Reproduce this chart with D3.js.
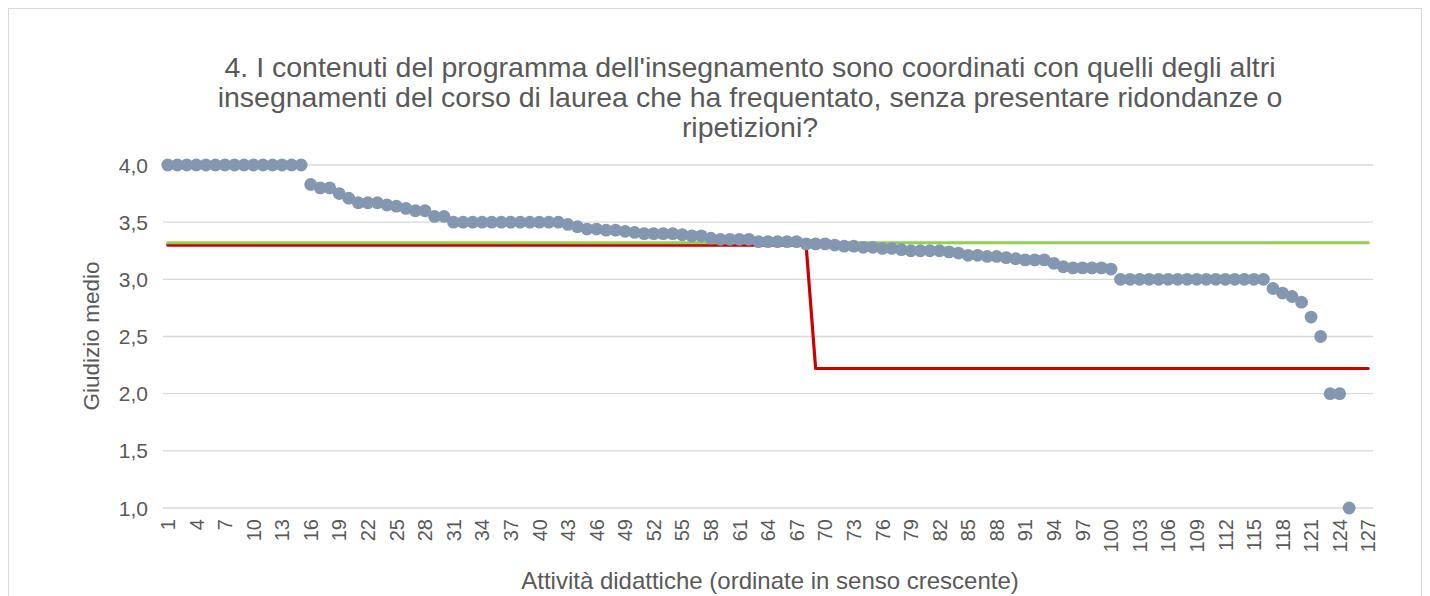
<!DOCTYPE html>
<html>
<head>
<meta charset="utf-8">
<script src="https://cdn.jsdelivr.net/npm/d3@7"></script>
<style>
  body { margin: 0; background: #fff; }
  svg { display: block; font-family: "Liberation Sans", Arial, sans-serif; }
</style>
</head>
<body>
<svg id="chart" width="1430" height="596"></svg>
<script>
// valori
const categories = d3.range(1, 128)
const giudizio = [
  4.00, 4.00, 4.00, 4.00, 4.00, 4.00, 4.00, 4.00, 4.00, 4.00,
  4.00, 4.00, 4.00, 4.00, 4.00, 3.83, 3.80, 3.80, 3.75, 3.71,
  3.67, 3.67, 3.67, 3.65, 3.64, 3.62, 3.60, 3.60, 3.55, 3.55,
  3.50, 3.50, 3.50, 3.50, 3.50, 3.50, 3.50, 3.50, 3.50, 3.50,
  3.50, 3.50, 3.48, 3.46, 3.44, 3.44, 3.43, 3.43, 3.42, 3.41,
  3.40, 3.40, 3.40, 3.40, 3.39, 3.38, 3.38, 3.36, 3.35, 3.35,
  3.35, 3.35, 3.33, 3.33, 3.33, 3.33, 3.33, 3.31, 3.31, 3.31,
  3.30, 3.29, 3.29, 3.28, 3.28, 3.27, 3.27, 3.26, 3.25, 3.25,
  3.25, 3.25, 3.24, 3.23, 3.21, 3.21, 3.20, 3.20, 3.19, 3.18,
  3.17, 3.17, 3.17, 3.14, 3.11, 3.10, 3.10, 3.10, 3.10, 3.09,
  3.00, 3.00, 3.00, 3.00, 3.00, 3.00, 3.00, 3.00, 3.00, 3.00,
  3.00, 3.00, 3.00, 3.00, 3.00, 3.00, 2.92, 2.88, 2.85, 2.80,
  2.67, 2.50, 2.00, 2.00, 1.00
]
// media di ateneo (verde) e media del corso (rosso, a gradino)
const mediaAteneo = categories.map(() => 3.32)
const mediaCorso = categories.map(c => c <= 68 ? 3.30 : 2.22)
const yTicks = [1.0, 1.5, 2.0, 2.5, 3.0, 3.5, 4.0]
const xTickLabels = categories.filter(c => (c - 1) % 3 === 0)

const titleLines = [
  "4. I contenuti del programma dell'insegnamento sono coordinati con quelli degli altri",
  "insegnamenti del corso di laurea che ha frequentato, senza presentare ridondanze o",
  "ripetizioni?"
]

const svg = d3.select("#chart")
const textColor = "#595959"

// cornice
svg.append("rect")
    .attr("x", 8.5).attr("y", 8.5)
    .attr("width", 1413).attr("height", 600)
    .attr("fill", "#fff")
    .attr("stroke", "#d9d9d9")

const x = d3.scaleBand()
    .domain(categories)
    .range([163, 1373])
const xc = c => x(c) + x.bandwidth() / 2

const y = d3.scaleLinear()
    .domain([1, 4])
    .range([508, 165])

// griglia
svg.append("g")
  .selectAll("line")
  .data(yTicks)
  .join("line")
    .attr("x1", 163).attr("x2", 1373)
    .attr("y1", d => y(d)).attr("y2", d => y(d))
    .attr("stroke", "#d9d9d9")
    .attr("stroke-width", 1.3)

// etichette asse y
svg.append("g")
  .selectAll("text")
  .data(yTicks)
  .join("text")
    .attr("x", 148)
    .attr("y", d => y(d))
    .attr("dy", "0.36em")
    .attr("text-anchor", "end")
    .attr("fill", textColor)
    .style("font-size", "21px")
    .text(d => d3.format(".1f")(d).replace(".", ","))

// etichette asse x (ruotate)
svg.append("g")
  .selectAll("text")
  .data(xTickLabels)
  .join("text")
    .attr("transform", d => `translate(${xc(d)},519) rotate(-90)`)
    .attr("dy", "0.36em")
    .attr("text-anchor", "end")
    .attr("fill", textColor)
    .style("font-size", "20px")
    .text(d => d)

// linee di riferimento
const line = d3.line()
    .x((d, i) => xc(categories[i]))
    .y(d => y(d))

svg.append("path")
    .datum(mediaCorso)
    .attr("d", line)
    .attr("fill", "none")
    .attr("stroke", "#cc0000")
    .attr("stroke-width", 3.2)
    .attr("stroke-linecap", "round")
    .attr("stroke-linejoin", "round")

svg.append("path")
    .datum(mediaAteneo)
    .attr("d", line)
    .attr("fill", "none")
    .attr("stroke", "#92d050")
    .attr("stroke-width", 3.2)
    .attr("stroke-linecap", "round")

// punti
svg.append("g")
  .selectAll("circle")
  .data(giudizio)
  .join("circle")
    .attr("cx", (d, i) => xc(categories[i]))
    .attr("cy", d => y(d))
    .attr("r", 6.4)
    .attr("fill", "#8497b0")

// titolo
svg.append("g")
  .selectAll("text")
  .data(titleLines)
  .join("text")
    .attr("x", 750)
    .attr("y", (d, i) => 77 + i * 30)
    .attr("text-anchor", "middle")
    .attr("fill", textColor)
    .style("font-size", "28.5px")
    .text(d => d)

// titoli assi
svg.append("text")
    .attr("transform", "translate(99,336) rotate(-90)")
    .attr("text-anchor", "middle")
    .attr("fill", textColor)
    .style("font-size", "22.5px")
    .text("Giudizio medio")

svg.append("text")
    .attr("x", 770)
    .attr("y", 589)
    .attr("text-anchor", "middle")
    .attr("fill", textColor)
    .style("font-size", "24px")
    .text("Attività didattiche (ordinate in senso crescente)")
</script>
</body>
</html>
